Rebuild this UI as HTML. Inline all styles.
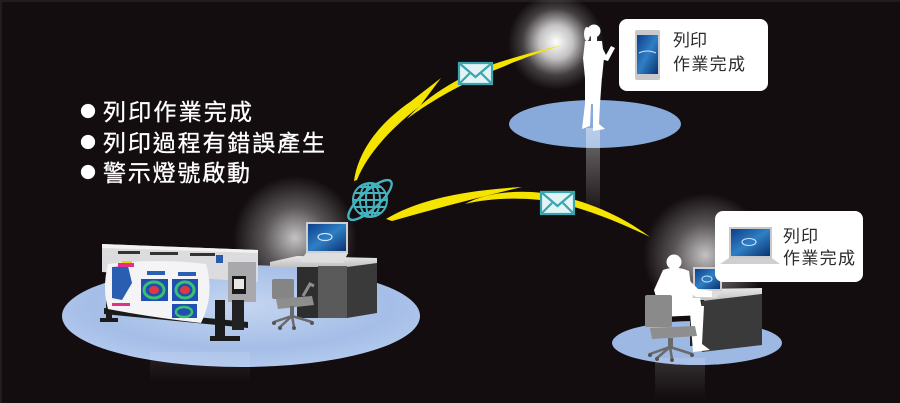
<!DOCTYPE html>
<html><head><meta charset="utf-8"><style>
html,body{margin:0;padding:0;background:#130d0f;}
svg{display:block;}
text{font-family:"Liberation Sans","Noto Sans CJK TC",sans-serif;}
</style></head><body>
<svg width="900" height="403" viewBox="0 0 900 403" xmlns="http://www.w3.org/2000/svg">
<defs>
<radialGradient id="glow"><stop offset="0" stop-color="#fff" stop-opacity="1"/><stop offset="0.35" stop-color="#fff" stop-opacity="0.75"/><stop offset="0.7" stop-color="#fff" stop-opacity="0.2"/><stop offset="1" stop-color="#fff" stop-opacity="0"/></radialGradient>
<radialGradient id="glowsoft"><stop offset="0" stop-color="#fff" stop-opacity="0.75"/><stop offset="0.5" stop-color="#fff" stop-opacity="0.3"/><stop offset="1" stop-color="#fff" stop-opacity="0"/></radialGradient>
<radialGradient id="floorL" cx="0.5" cy="0.4" r="0.6"><stop offset="0" stop-color="#c4d5f0"/><stop offset="0.7" stop-color="#a5bee7"/><stop offset="1" stop-color="#b3c9ee"/></radialGradient>
<linearGradient id="refl" x1="0" y1="0" x2="0" y2="1"><stop offset="0" stop-color="#fff" stop-opacity="0.6"/><stop offset="1" stop-color="#fff" stop-opacity="0"/></linearGradient>
<linearGradient id="scr" x1="0" y1="0" x2="1" y2="1"><stop offset="0" stop-color="#0d3f8a"/><stop offset="0.5" stop-color="#2f7fc4"/><stop offset="1" stop-color="#0a3270"/></linearGradient>
<linearGradient id="desktop" x1="0" y1="0" x2="0" y2="1"><stop offset="0" stop-color="#e8e8e8"/><stop offset="1" stop-color="#bcbcbc"/></linearGradient>
</defs>
<rect width="900" height="403" fill="#130d0f"/>
<rect x="0" y="0" width="900" height="2" fill="#231c1e"/>
<rect x="0" y="0" width="2" height="403" fill="#231c1e"/>

<!-- glows -->
<circle cx="556" cy="42" r="48" fill="url(#glow)"/>
<circle cx="295" cy="238" r="62" fill="url(#glowsoft)"/>
<circle cx="705" cy="255" r="62" fill="url(#glowsoft)"/>

<!-- floors -->
<ellipse cx="241" cy="316" rx="179" ry="51" fill="url(#floorL)"/>
<ellipse cx="595" cy="124" rx="86" ry="24" fill="#88aadb"/>
<ellipse cx="697" cy="343" rx="85" ry="22" fill="#9db8e3"/>

<!-- reflections -->
<rect x="586" y="128" width="14" height="90" fill="url(#refl)" opacity="0.7"/>
<rect x="150" y="352" width="100" height="30" fill="url(#refl)" opacity="0.15"/>
<rect x="655" y="358" width="50" height="40" fill="url(#refl)" opacity="0.25"/>

<!-- LEFT: printer -->
<g>
<polygon points="102,244 258,250 258,282 102,272" fill="#dcdcdf"/>
<polygon points="102,244 258,250 258,253 102,248" fill="#f2f2f2"/>
<rect x="118" y="251" width="22" height="3" fill="#333"/>
<rect x="150" y="252" width="28" height="3" fill="#333"/>
<rect x="190" y="253" width="25" height="3" fill="#333"/>
<rect x="216" y="255" width="7" height="8" fill="#2a5aa8"/>
<rect x="228" y="262" width="28" height="40" fill="#a9a9ad"/>
<rect x="232" y="276" width="14" height="18" fill="#1a1a1a"/>
<rect x="234" y="279" width="10" height="10" fill="#e8e8e8"/>
<!-- stand -->
<polygon points="104,308 248,322 248,328 104,314" fill="#1b1b1b"/>
<rect x="106" y="300" width="6" height="22" fill="#1b1b1b"/>
<rect x="100" y="318" width="18" height="4" fill="#1b1b1b"/>
<rect x="215" y="300" width="10" height="40" fill="#1b1b1b"/>
<rect x="210" y="336" width="30" height="5" fill="#1b1b1b"/>
<rect x="232" y="300" width="12" height="30" fill="#222"/>
<!-- paper -->
<path d="M108,264 Q160,258 206,264 Q215,295 201,323 Q150,317 108,309 Q102,288 108,264 Z" fill="#f4f4f6"/>
<path d="M112,267 L128,266 L132,283 L122,300 L112,298 Z" fill="#2a5eb0"/>
<rect x="118" y="263" width="16" height="4" fill="#e0308a"/>
<rect x="122" y="261" width="10" height="2" fill="#f5d000"/>
<rect x="141" y="279" width="27" height="22" fill="#1f4fb0"/>
<ellipse cx="154" cy="290" rx="10" ry="8" fill="none" stroke="#3cc070" stroke-width="3"/>
<ellipse cx="154" cy="290" rx="5" ry="4" fill="#e03a40"/>
<rect x="172" y="279" width="26" height="22" fill="#1f4fb0"/>
<ellipse cx="185" cy="290" rx="9" ry="8" fill="none" stroke="#3cc070" stroke-width="3"/>
<ellipse cx="185" cy="290" rx="5" ry="4" fill="#e03a40"/>
<rect x="172" y="304" width="25" height="14" fill="#1f4fb0"/>
<ellipse cx="184" cy="312" rx="8" ry="5" fill="none" stroke="#3cc070" stroke-width="2.5"/>
<rect x="147" y="271" width="18" height="4" fill="#2a5eb0"/>
<rect x="178" y="272" width="18" height="4" fill="#2a5eb0"/>
<rect x="112" y="303" width="18" height="3" fill="#e0308a"/>
</g>

<!-- LEFT desk -->
<g>
<polygon points="270,262 297,256 377,258 377,264 347,268 270,268" fill="url(#desktop)"/>
<rect x="297" y="267" width="21" height="51" fill="#2e2e2e"/>
<rect x="318" y="266" width="29" height="52" fill="#5a5a5a"/>
<polygon points="347,267 377,263 377,313 347,318" fill="#3a3a3a"/>
<!-- laptop -->
<rect x="306" y="222" width="42" height="32" fill="#cfcfd2"/>
<rect x="308" y="224" width="38" height="27" fill="url(#scr)"/>
<ellipse cx="325" cy="237" rx="7" ry="3.5" fill="none" stroke="#cfe4ff" stroke-width="1.2"/>
<polygon points="300,262 306,253 348,253 343,263" fill="#dedede"/>
<!-- chair -->
<rect x="272" y="279" width="22" height="20" rx="2" fill="#858585"/>
<polygon points="276,299 312,296 314,305 278,309" fill="#8e8e8e"/>
<rect x="290" y="306" width="4" height="10" fill="#6a6a6a"/>
<path d="M274,322 L292,316 L312,322 M292,316 L294,327 M292,316 L280,327" stroke="#6a6a6a" stroke-width="2.5" fill="none"/>
<circle cx="274" cy="323" r="2" fill="#555"/><circle cx="312" cy="323" r="2" fill="#555"/><circle cx="294" cy="328" r="2" fill="#555"/><circle cx="280" cy="328" r="2" fill="#555"/>
<path d="M303,296 L310,284 L314,286" stroke="#8e8e8e" stroke-width="3" fill="none"/>
</g>

<!-- woman -->
<g fill="#fff">
<circle cx="594" cy="31" r="6.5"/>
<ellipse cx="587" cy="34" rx="3" ry="7"/>
<rect x="591" y="35" width="6" height="7"/>
<path d="M585,41 L602,41 L604,58 L602,78 L585,78 L583,58 Z"/>
<path d="M600,43 L606,55 L611,46 L615,48 L608,61 L601,59 Z"/>
<path d="M585,76 L602,76 L600,104 L599,124 L605,129 L593,131 L593,104 L591,104 L590,126 L582,129 L585,104 Z"/>
</g>

<!-- man desk & person -->
<g>
<polygon points="684,293 700,289 762,288 762,294 704,302 686,300" fill="url(#desktop)"/>
<rect x="690" y="300" width="14" height="46" fill="#262626"/>
<polygon points="702,301 762,294 762,345 702,352" fill="#3a3a3a"/>
<!-- laptop -->
<polygon points="693,267 722,267 722,292 693,292" fill="#cfcfd2"/>
<rect x="695" y="269" width="25" height="20" fill="url(#scr)"/>
<ellipse cx="707" cy="279" rx="5" ry="3" fill="none" stroke="#cfe4ff" stroke-width="1"/>
<polygon points="688,296 693,291 722,291 716,298" fill="#dedede"/>
<!-- man -->
<g fill="#fff">
<circle cx="674" cy="262" r="7.5"/>
<path d="M663,270 Q676,265 689,271 L693,300 L659,307 L654,290 Z"/>
<path d="M684,275 L698,289 L712,291 L712,297 L696,297 L681,286 Z"/>
<path d="M657,298 L700,298 L703,315 L660,317 Z"/>
<path d="M688,306 L704,306 L702,344 L710,350 L693,352 L690,312 Z"/>
</g>
<!-- chair -->
<rect x="645" y="295" width="27" height="32" rx="2" fill="#8a8a8a"/>
<polygon points="650,328 695,326 697,336 652,339" fill="#8e8e8e"/>
<rect x="668" y="338" width="5" height="10" fill="#6a6a6a"/>
<path d="M650,354 L670,347 L692,354 M670,347 L672,359 M670,347 L657,358" stroke="#6a6a6a" stroke-width="2.5" fill="none"/>
<circle cx="650" cy="355" r="2" fill="#555"/><circle cx="692" cy="355" r="2" fill="#555"/><circle cx="672" cy="360" r="2" fill="#555"/><circle cx="657" cy="359" r="2" fill="#555"/>
</g>

<!-- lightning bolts -->
<g fill="#f5e300">
<path d="M354,181 C358,152 378,124 410,102 L441,78 L420,106 C394,126 368,152 357,180 Z"/>
<path d="M407,119 C428,94 466,73 500,62 C522,55 545,49 563,45 C540,52 516,61 500,68 C470,80 436,97 407,119 Z"/>
<path d="M386,219 Q430,192 522,187 Q455,203 392,221 Z"/>
<path d="M465,204 C490,190 530,189 560,196 C600,205 630,222 650,237 C625,225 595,212 560,203 C530,197 495,197 465,204 Z"/>
</g>

<!-- envelopes -->
<g stroke="#3aa5ae" stroke-width="2.2" fill="#e2f4f6">
<rect x="459" y="63" width="33" height="21"/>
<path d="M459,63 L475.5,77 L492,63 M459,84 L470,73 M492,84 L481,73" fill="none"/>
<rect x="541" y="192" width="33" height="22"/>
<path d="M541,192 L557.5,206 L574,192 M541,214 L552,203 M574,214 L563,203" fill="none"/>
</g>

<!-- globe -->
<g stroke="#45b3bd" stroke-width="2" fill="none">
<circle cx="370" cy="200" r="17"/>
<ellipse cx="370" cy="200" rx="10" ry="17"/>
<ellipse cx="370" cy="200" rx="4" ry="17"/>
<line x1="353" y1="200" x2="387" y2="200"/>
<line x1="354.5" y1="193" x2="385.5" y2="193"/>
<line x1="354.5" y1="207" x2="385.5" y2="207"/>
<line x1="359" y1="187" x2="381" y2="187"/>
<line x1="359" y1="213" x2="381" y2="213"/>
<ellipse cx="370" cy="200" rx="28" ry="9" transform="rotate(-42 370 200)" stroke-width="2.4"/>
</g>

<!-- bullet text -->
<g fill="#fff" font-size="23" stroke="#fff" stroke-width="0.3">
<circle cx="88" cy="111" r="7"/>
<circle cx="88" cy="142" r="7"/>
<circle cx="88" cy="172" r="7"/>
<text x="103" y="120" textLength="149" lengthAdjust="spacing">列印作業完成</text>
<text x="103" y="151" textLength="222" lengthAdjust="spacing">列印過程有錯誤產生</text>
<text x="103" y="181" textLength="147" lengthAdjust="spacing">警示燈號啟動</text>
</g>

<!-- callout 1 -->
<rect x="619" y="19" width="149" height="72" rx="8" fill="#fff"/>
<rect x="635" y="30" width="25" height="50" rx="2" fill="#c9c9cb"/>
<rect x="637" y="35" width="21" height="39" fill="url(#scr)"/>
<path d="M639,53 Q647,49 656,53" stroke="#cfe4ff" stroke-width="1" fill="none"/>
<g fill="#2a2a2a" font-size="17">
<text x="673" y="46" textLength="34" lengthAdjust="spacing">列印</text>
<text x="673" y="70" textLength="72" lengthAdjust="spacing">作業完成</text>
</g>

<!-- callout 2 -->
<rect x="715" y="211" width="148" height="71" rx="8" fill="#fff"/>
<rect x="729" y="227" width="43" height="31" fill="#c9c9cb"/>
<rect x="731" y="229" width="39" height="27" fill="url(#scr)"/>
<ellipse cx="749" cy="242" rx="7" ry="3.5" fill="none" stroke="#cfe4ff" stroke-width="1.1"/>
<polygon points="720,264 729,258 772,258 780,264" fill="#cfcfd1"/>
<g fill="#2a2a2a" font-size="17">
<text x="783" y="242" textLength="35" lengthAdjust="spacing">列印</text>
<text x="783" y="264" textLength="72" lengthAdjust="spacing">作業完成</text>
</g>
</svg>
</body></html>
